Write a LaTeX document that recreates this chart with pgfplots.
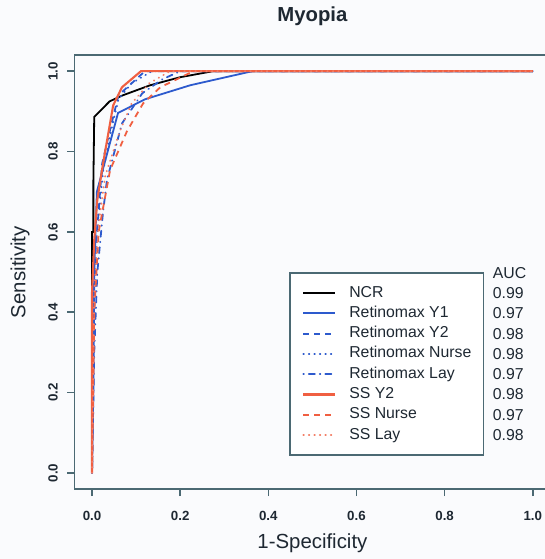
\documentclass[border=0pt]{standalone}
\usepackage{pgfplots}
\pgfplotsset{compat=1.18}
\usepackage{fontspec}
\setmainfont{Liberation Sans}
\usetikzlibrary{backgrounds}
\definecolor{axcol}{RGB}{75,105,115}
\definecolor{txt}{RGB}{30,40,50}
\definecolor{rblue}{RGB}{45,90,205}
\definecolor{rred}{RGB}{240,95,65}
\definecolor{bg}{RGB}{250,251,253}
\begin{document}
\begin{tikzpicture}
\begin{axis}[
  name=ax,
  scale only axis, width=476pt, height=434pt,
  xmin=-0.04, xmax=1.04, ymin=-0.04, ymax=1.04,
  xtick={0,0.2,0.4,0.6,0.8,1}, ytick={0,0.2,0.4,0.6,0.8,1},
  xticklabels={0.0,0.2,0.4,0.6,0.8,1.0},
  yticklabels={0.0,0.2,0.4,0.6,0.8,1.0},
  tick align=outside, tick pos=left, major tick length=7pt,
  axis line style={axcol, line width=1.6pt},
  every tick/.style={axcol, line width=1.6pt},
  ticklabel style={font=\fontsize{13.3}{16}\selectfont\bfseries, text=txt},
  xticklabel shift=12pt,
  yticklabel style={rotate=90, anchor=south},
  yticklabel shift=6pt,
  title={Myopia},
  title style={at={(axis description cs:0.5,1.076)}, anchor=center, font=\fontsize{20.3}{24}\selectfont\bfseries, text=txt},
  xlabel={1-Specificity},
  xlabel style={at={(axis description cs:0.5,-0.1244)}, anchor=center, font=\fontsize{20.4}{24}\selectfont, text=txt},
  ylabel={Sensitivity},
  ylabel style={at={(axis description cs:-0.1143,0.5)}, anchor=center, font=\fontsize{20.4}{24}\selectfont, text=txt},
  legend image code/.code={\draw[#1] (0pt,0pt) -- (32pt,0pt); \path[draw=none, fill=none] (0pt,0pt) -- (46pt,0pt);},
  legend cell align=left,
  legend style={at={(axis cs:0.448,0.5)}, anchor=north west, draw=axcol, line width=1.6pt,
    font=\fontsize{15.8}{18}\selectfont, text=txt, inner xsep=12pt, inner ysep=10pt,
    row sep=0pt, column sep=0pt,
    nodes={inner xsep=0pt, inner ysep=2.15pt, text height=12pt, text depth=4pt}},
]
\addplot[black, line width=1.8pt] coordinates {(0,0) (0,0.6) (0.003,0.6) (0.003,0.72) (0.005,0.886) (0.04,0.925) (0.07,0.94) (0.132,0.965) (0.2,0.985) (0.275,1) (1,1)};
\addlegendentry{NCR}
\addplot[rblue, line width=1.8pt] coordinates {(0,0) (0.003,0.2) (0.005,0.5) (0.011,0.70) (0.059,0.896) (0.12,0.93) (0.223,0.965) (0.364,1) (1,1)};
\addlegendentry{Retinomax Y1}
\addplot[rblue, line width=1.8pt, dash pattern=on 6pt off 5pt] coordinates {(0,0) (0.003,0.3) (0.008,0.55) (0.023,0.77) (0.04,0.85) (0.06,0.94) (0.1,0.98) (0.12,1) (1,1)};
\addlegendentry{Retinomax Y2}
\addplot[rblue, line width=1.8pt, line cap=round, dash pattern=on 0.5pt off 5pt] coordinates {(0,0) (0.004,0.35) (0.01,0.58) (0.025,0.75) (0.045,0.86) (0.06,0.93) (0.09,0.97) (0.136,1) (1,1)};
\addlegendentry{Retinomax Nurse}
\addplot[rblue, line width=1.8pt, line cap=round, dash pattern=on 0.5pt off 5pt on 6pt off 5pt] coordinates {(0,0) (0.005,0.3) (0.012,0.5) (0.025,0.65) (0.034,0.73) (0.068,0.87) (0.114,0.945) (0.16,0.98) (0.2,1) (1,1)};
\addlegendentry{Retinomax Lay}
\addplot[rred, line width=2.1pt] coordinates {(0,0) (0,0.45) (0.005,0.58) (0.012,0.68) (0.025,0.77) (0.048,0.915) (0.068,0.96) (0.111,1) (1,1)};
\addlegendentry{SS Y2}
\addplot[rred, line width=1.8pt, dash pattern=on 6pt off 5pt] coordinates {(0,0) (0.005,0.4) (0.015,0.6) (0.041,0.754) (0.079,0.85) (0.116,0.92) (0.155,0.96) (0.23,1) (1,1)};
\addlegendentry{SS Nurse}
\addplot[rred!80, line width=1.8pt, line cap=round, dash pattern=on 0.5pt off 5pt] coordinates {(0,0) (0.005,0.45) (0.015,0.62) (0.03,0.74) (0.064,0.853) (0.09,0.92) (0.13,0.97) (0.177,1) (1,1)};
\addlegendentry{SS Lay}
\begin{scope}[every node/.style={anchor=west, font=\fontsize{15.8}{18}\selectfont, text=txt, inner sep=0pt}]
\node at (axis cs:0.909,0.4975) {AUC};
\node at (axis cs:0.909,0.4478) {0.99};
\node at (axis cs:0.909,0.3973) {0.97};
\node at (axis cs:0.909,0.3468) {0.98};
\node at (axis cs:0.909,0.2963) {0.98};
\node at (axis cs:0.909,0.2458) {0.97};
\node at (axis cs:0.909,0.1953) {0.98};
\node at (axis cs:0.909,0.1448) {0.97};
\node at (axis cs:0.909,0.0943) {0.98};
\end{scope}
\end{axis}
\pgfresetboundingbox
\begin{scope}[on background layer]
\fill[bg] ([xshift=-74.4pt,yshift=-69.9pt]ax.south west) rectangle ([xshift=470.6pt,yshift=489.1pt]ax.south west);
\end{scope}
\path[use as bounding box] ([xshift=-74.4pt,yshift=-69.9pt]ax.south west) rectangle ([xshift=470.6pt,yshift=489.1pt]ax.south west);
\end{tikzpicture}
\end{document}
